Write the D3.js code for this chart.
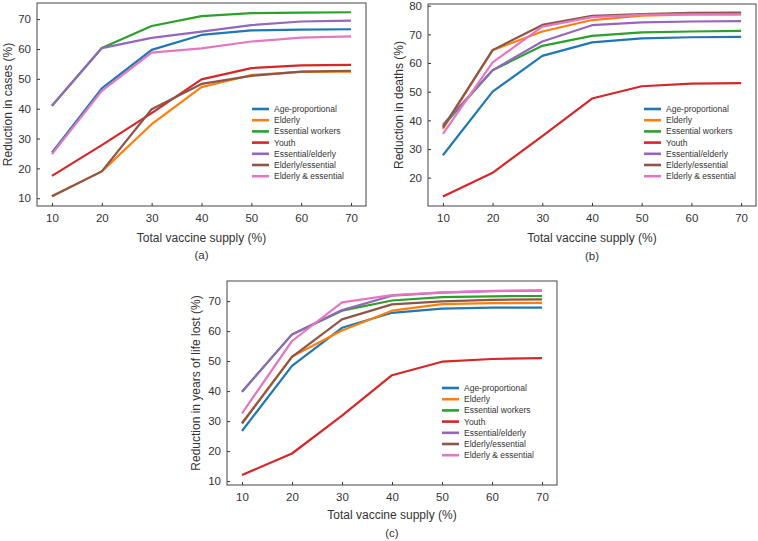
<!DOCTYPE html>
<html>
<head>
<meta charset="utf-8">
<script src="https://cdn.jsdelivr.net/npm/d3@7"></script>
<style>
  body { margin: 0; background: #fff; }
  svg { display: block; font-family: "Liberation Sans", Arial, sans-serif; }
</style>
</head>
<body>
<svg id="chart" width="758" height="541"></svg>
<script>
const supply = [10, 20, 30, 40, 50, 60, 70];
const strategies = ["Age-proportional", "Elderly", "Essential workers", "Youth",
  "Essential/elderly", "Elderly/essential", "Elderly & essential"];
const colors = ["#1f77b4", "#ff7f0e", "#2ca02c", "#d62728", "#9467bd", "#8c564b", "#e377c2"];

// (a) reduction in cases
const casesAge = [25.3, 46.8, 59.7, 64.7, 66.2, 66.5, 66.6];
const casesElderly = [10.7, 19.0, 34.8, 47.2, 51.3, 52.3, 52.4];
const casesEssential = [41.0, 60.3, 67.7, 71.0, 72.0, 72.2, 72.3];
const casesYouth = [17.5, 27.8, 38.5, 49.8, 53.6, 54.5, 54.7];
const casesEssElderly = [41.0, 60.3, 63.7, 65.8, 68.0, 69.2, 69.5];
const casesElderlyEss = [10.7, 19.0, 39.8, 48.3, 51.0, 52.4, 52.7];
const casesElderlyAndEss = [24.8, 46.0, 58.8, 60.2, 62.5, 63.8, 64.2];

// (b) reduction in deaths
const deathsAge = [27.8, 50.0, 62.5, 67.2, 68.6, 69.0, 69.1];
const deathsElderly = [37.0, 64.5, 71.0, 75.0, 76.5, 77.0, 77.0];
const deathsEssential = [38.0, 57.5, 66.0, 69.5, 70.7, 71.0, 71.2];
const deathsYouth = [13.4, 21.7, 34.5, 47.6, 51.9, 52.8, 53.0];
const deathsEssElderly = [38.5, 57.5, 67.5, 73.2, 74.2, 74.5, 74.6];
const deathsElderlyEss = [37.5, 64.5, 73.3, 76.5, 77.1, 77.5, 77.6];
const deathsElderlyAndEss = [35.3, 60.2, 72.7, 76.0, 76.8, 77.0, 77.0];

// (c) reduction in years of life lost
const yllAge = [26.7, 48.4, 61.1, 66.1, 67.5, 67.8, 67.8];
const yllElderly = [29.4, 51.5, 60.2, 66.8, 69.0, 69.3, 69.4];
const yllEssential = [39.8, 58.9, 66.8, 70.2, 71.3, 71.6, 71.7];
const yllYouth = [12.0, 19.2, 31.8, 45.3, 49.8, 50.7, 51.0];
const yllEssElderly = [39.8, 58.9, 67.0, 71.8, 72.8, 73.3, 73.5];
const yllElderlyEss = [29.2, 51.4, 63.9, 68.9, 69.9, 70.4, 70.6];
const yllElderlyAndEss = [32.6, 56.7, 69.6, 72.0, 72.9, 73.4, 73.6];

const yTicksA = [10, 20, 30, 40, 50, 60, 70];
const yTicksB = [20, 30, 40, 50, 60, 70, 80];
const yTicksC = [10, 20, 30, 40, 50, 60, 70];

const panels = [
  {
    series: [casesAge, casesElderly, casesEssential, casesYouth, casesEssElderly, casesElderlyEss, casesElderlyAndEss],
    yLabel: "Reduction in cases (%)", tag: "(a)", yTicks: yTicksA, yDomain: [7.4, 75.4],
    box: { left: 37, top: 3, right: 366, bottom: 206 }, yTitleX: 8,
    legend: { x: 252, y: 109 }, xTitleY: 238, tagY: 255
  },
  {
    series: [deathsAge, deathsElderly, deathsEssential, deathsYouth, deathsEssElderly, deathsElderlyEss, deathsElderlyAndEss],
    yLabel: "Reduction in deaths (%)", tag: "(b)", yTicks: yTicksB, yDomain: [10.1, 80.6],
    box: { left: 428, top: 4, right: 756, bottom: 206 }, yTitleX: 399,
    legend: { x: 644, y: 109 }, xTitleY: 238, tagY: 256
  },
  {
    series: [yllAge, yllElderly, yllEssential, yllYouth, yllEssElderly, yllElderlyEss, yllElderlyAndEss],
    yLabel: "Reduction in years of life lost (%)", tag: "(c)", yTicks: yTicksC, yDomain: [8.7, 76.7],
    box: { left: 227, top: 281, right: 557, bottom: 485 }, yTitleX: 196,
    legend: { x: 442, y: 388 }, xTitleY: 515, tagY: 533
  }
];

const svg = d3.select("#chart");
const textColor = "#333";

panels.forEach((p) => {
  const b = p.box;
  const w = b.right - b.left;
  const xScale = d3.scaleLinear().domain([7, 73]).range([b.left, b.right]);
  const yScale = d3.scaleLinear().domain(p.yDomain).range([b.bottom, b.top]);

  const g = svg.append("g");

  // inward ticks
  const xAxis = g.append("g")
    .attr("transform", `translate(0,${b.bottom})`)
    .call(d3.axisBottom(xScale).tickValues(supply).tickSize(-3).tickPadding(8));
  const yAxis = g.append("g")
    .attr("transform", `translate(${b.left},0)`)
    .call(d3.axisLeft(yScale).tickValues(p.yTicks).tickSize(-3).tickPadding(6));
  [xAxis, yAxis].forEach((ax) => {
    ax.select(".domain").remove();
    ax.selectAll(".tick line").attr("stroke", "#333");
    ax.selectAll(".tick text").attr("fill", textColor).attr("font-size", 11.5)
      .attr("font-family", "Liberation Sans, Arial, sans-serif");
  });

  const line = d3.line().x((d, i) => xScale(supply[i])).y((d) => yScale(d));
  p.series.forEach((s, i) => {
    g.append("path")
      .datum(s)
      .attr("d", line)
      .attr("fill", "none")
      .attr("stroke", colors[i])
      .attr("stroke-width", 2.2)
      .attr("stroke-linejoin", "round");
  });

  g.append("rect")
    .attr("x", b.left).attr("y", b.top)
    .attr("width", w).attr("height", b.bottom - b.top)
    .attr("fill", "none").attr("stroke", "#444").attr("stroke-width", 1);

  // legend
  const lg = g.append("g").attr("transform", `translate(${p.legend.x},${p.legend.y})`);
  strategies.forEach((name, i) => {
    const row = lg.append("g").attr("transform", `translate(0,${i * 11.2})`);
    row.append("line").attr("x1", 0).attr("x2", 17).attr("y1", 0).attr("y2", 0)
      .attr("stroke", colors[i]).attr("stroke-width", 2.6);
    row.append("text").attr("x", 22).attr("y", 3).attr("font-size", 8.5)
      .attr("fill", textColor).text(name);
  });

  g.append("text")
    .attr("x", (b.left + b.right) / 2).attr("y", p.xTitleY + 4)
    .attr("text-anchor", "middle").attr("font-size", 12).attr("fill", textColor)
    .text("Total vaccine supply (%)");
  g.append("text")
    .attr("transform", `translate(${p.yTitleX + 4},${(b.top + b.bottom) / 2}) rotate(-90)`)
    .attr("text-anchor", "middle").attr("font-size", 12).attr("fill", textColor)
    .text(p.yLabel);
  g.append("text")
    .attr("x", (b.left + b.right) / 2).attr("y", p.tagY + 4)
    .attr("text-anchor", "middle").attr("font-size", 11.5).attr("fill", textColor)
    .text(p.tag);
});
</script>
</body>
</html>
